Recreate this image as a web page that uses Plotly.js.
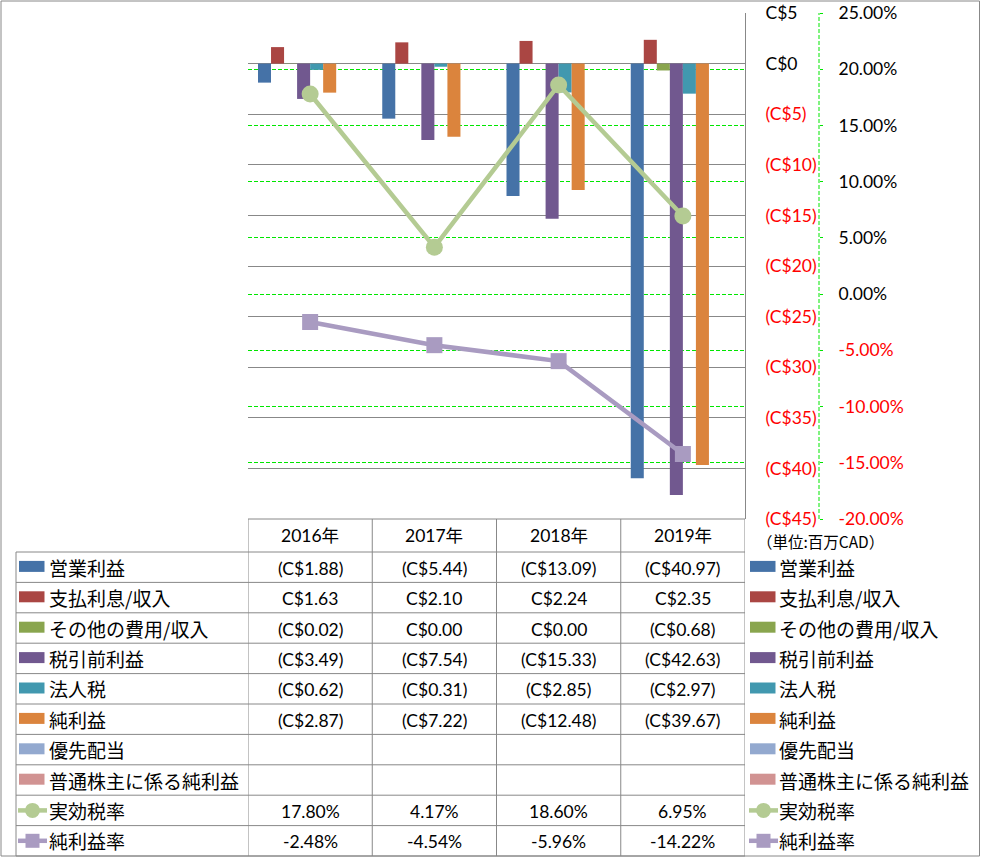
<!DOCTYPE html>
<html><head><meta charset="utf-8">
<script src="https://cdn.plot.ly/plotly-3.0.1.min.js"></script>
<style>html,body{margin:0;padding:0;background:#fff}</style>
</head><body><div id="chart" style="width:981px;height:858px"></div>
<script>
// ---------- DATA ----------
const years = ["2016年", "2017年", "2018年", "2019年"];
const barNames = ["営業利益", "支払利息/収入", "その他の費用/収入", "税引前利益", "法人税", "純利益", "優先配当", "普通株主に係る純利益"];
const operatingIncome = [-1.88, -5.44, -13.09, -40.97];
const interestIncome = [1.63, 2.10, 2.24, 2.35];
const otherExpense = [-0.02, 0.00, 0.00, -0.68];
const pretaxIncome = [-3.49, -7.54, -15.33, -42.63];
const incomeTax = [-0.62, -0.31, -2.85, -2.97];
const netIncome = [-2.87, -7.22, -12.48, -39.67];
const preferredDividend = [null, null, null, null];
const netToCommon = [null, null, null, null];
const lineNames = ["実効税率", "純利益率"];
const effectiveTaxRate = [17.80, 4.17, 18.60, 6.95];
const netMargin = [-2.48, -4.54, -5.96, -14.22];
const moneyTicks = [5, 0, -5, -10, -15, -20, -25, -30, -35, -40, -45];
const pctTicks = [25, 20, 15, 10, 5, 0, -5, -10, -15, -20];
const unitLabel = "（単位:百万CAD）";

// ---------- STYLE ----------
const barColors = ["#4572A7", "#AA4643", "#89A54E", "#71588F", "#4198AF", "#DB843D", "#93A9CF", "#D19392"];
const lineColors = ["#B4CB93", "#A99BC1"];
const barSeries = [operatingIncome, interestIncome, otherExpense, pretaxIncome, incomeTax, netIncome, preferredDividend, netToCommon];
const lineSeries = [effectiveTaxRate, netMargin];
const RED = "#FF0000", GRID = "#888888", GREEN = "#00E600";
const NUMFONT = "Lato, 'Noto Sans CJK JP', sans-serif";
const JPFONT = "'Noto Sans CJK JP', sans-serif";

// pixel geometry helpers (layout only)
const plotL = 248, plotR = 745, plotT = 13, plotB = 519, paperR = 900;
const PW = paperR - plotL, PH = plotB - plotT;
const X = px => (px - plotL) / PW;
const Y = py => (plotB - py) / PH;
const rowTop = 552, rowH = 30.4;
const rowC = r => rowTop + rowH * (r + 0.5);

function fmtMoney(v) {
  if (v === null || v === undefined) return "";
  return v < 0 ? "(C$" + Math.abs(v).toFixed(2) + ")" : "C$" + v.toFixed(2);
}
function fmtPct(v) { return (v === null || v === undefined) ? "" : v.toFixed(2) + "%"; }
function moneyTick(v) {
  return v < 0 ? '<span style="color:' + RED + '">(C$' + (-v) + ')</span>' : "C$" + v;
}
function pctTick(v) {
  const t = v.toFixed(2) + "%";
  return v < 0 ? '<span style="color:' + RED + '">' + t + '</span>' : t;
}

// ---------- TRACES ----------
const traces = [];
barNames.forEach((n, i) => {
  traces.push({
    type: "bar", name: n, x: years, y: barSeries[i], yaxis: "y", xaxis: "x",
    marker: { color: barColors[i], line: { width: 0 } }, hoverinfo: "skip"
  });
});
const symbols = ["circle", "square"];
const msizes = [17, 16];
lineNames.forEach((n, i) => {
  traces.push({
    type: "scatter", mode: "lines+markers", name: n, x: years, y: lineSeries[i],
    xaxis: "x", yaxis: "y2",
    line: { color: lineColors[i], width: 4.5 },
    marker: { symbol: symbols[i], size: msizes[i], color: lineColors[i] },
    cliponaxis: false, hoverinfo: "skip"
  });
});

// ---------- SHAPES ----------
const shapes = [];
const hline = (x0, x1, py, col, w) => shapes.push({ type: "line", xref: "paper", yref: "paper", x0: X(x0), x1: X(x1), y0: Y(py), y1: Y(py), line: { color: col || GRID, width: w || 1 } });
// outer border
shapes.push({ type: "rect", xref: "paper", yref: "paper", x0: X(1), x1: X(979.5), y0: Y(856), y1: Y(1), line: { color: GRID, width: 1 } });
// header top
hline(plotL, plotR, plotB);
// body horizontal lines
for (let i = 0; i <= 10; i++) hline(16, plotR, rowTop + rowH * i);
// column boundaries (category edges through the x scale)
for (let c = 0; c <= years.length; c++) {
  shapes.push({ type: "line", xref: "x", yref: "paper", x0: c - 0.5, x1: c - 0.5, y0: Y(856), y1: Y(plotB), line: { color: GRID, width: 1 } });
}
// first column left edge
shapes.push({ type: "line", xref: "paper", yref: "paper", x0: X(16), x1: X(16), y0: Y(856), y1: Y(rowTop), line: { color: GRID, width: 1 } });
// secondary axis dashed line
shapes.push({ type: "line", xref: "paper", yref: "paper", x0: X(819), x1: X(819), y0: Y(plotB), y1: Y(plotT), line: { color: GREEN, width: 1, dash: "4px,2px" } });

// legend swatches (left column + right legend)
function barSwatch(x0, r, color) {
  const c = rowC(r) - 0.8;
  shapes.push({ type: "rect", xref: "paper", yref: "paper", x0: X(x0), x1: X(x0 + 25.5), y0: Y(c + 5.5), y1: Y(c - 5.5), fillcolor: color, line: { width: 0 } });
}
function lineSwatch(x0, r, color, sym) {
  const c = rowC(r);
  shapes.push({ type: "line", xref: "paper", yref: "paper", x0: X(x0), x1: X(x0 + 29), y0: Y(c), y1: Y(c), line: { color: color, width: 4.5 } });
  const cx = x0 + 14.5, rr = sym === "circle" ? 7.5 : 7;
  shapes.push({ type: sym === "circle" ? "circle" : "rect", xref: "paper", yref: "paper", x0: X(cx - rr), x1: X(cx + rr), y0: Y(c + rr), y1: Y(c - rr), fillcolor: color, line: { width: 0 } });
}
[19, 750].forEach(x0 => {
  barNames.forEach((n, i) => barSwatch(x0, i, barColors[i]));
  lineNames.forEach((n, i) => lineSwatch(x0 - 1, barNames.length + i, lineColors[i], symbols[i]));
});

// ---------- ANNOTATIONS ----------
const ann = [];
years.forEach(yr => ann.push({ xref: "x", yref: "paper", x: yr, y: Y(535.5), text: yr, showarrow: false, xanchor: "center", yanchor: "middle", font: { family: NUMFONT, size: 17.5, color: "#000" } }));
const allNames = barNames.concat(lineNames);
allNames.forEach((n, r) => {
  [47, 777].forEach(x0 => ann.push({ xref: "paper", yref: "paper", x: X(x0), y: Y(rowC(r)), text: n, showarrow: false, xanchor: "left", yanchor: "middle", font: { family: JPFONT, size: 19, color: "#000" } }));
});
barSeries.forEach((arr, r) => arr.forEach((v, c) => {
  const t = fmtMoney(v);
  if (t) ann.push({ xref: "x", yref: "paper", x: years[c], y: Y(rowC(r) + 1), text: t, showarrow: false, xanchor: "center", yanchor: "middle", font: { family: NUMFONT, size: 17.5, color: "#000" } });
}));
lineSeries.forEach((arr, k) => arr.forEach((v, c) => {
  ann.push({ xref: "x", yref: "paper", x: years[c], y: Y(rowC(barNames.length + k) + 1), text: fmtPct(v), showarrow: false, xanchor: "center", yanchor: "middle", font: { family: NUMFONT, size: 17.5, color: "#000" } });
}));
ann.push({ xref: "paper", yref: "paper", x: X(755), y: Y(541), text: unitLabel, showarrow: false, xanchor: "left", yanchor: "middle", font: { family: JPFONT, size: 15.5, color: "#000" } });

// ---------- LAYOUT ----------
const layout = {
  width: 981, height: 858,
  margin: { l: plotL, r: 981 - paperR, t: plotT, b: 858 - plotB, pad: 0 },
  paper_bgcolor: "#fff", plot_bgcolor: "rgba(0,0,0,0)",
  showlegend: false, barmode: "group", bargap: 0.161, bargroupgap: 0,
  xaxis: { domain: [0, X(plotR)], type: "category", range: [-0.5, years.length - 0.5], showticklabels: false, showgrid: false, zeroline: false, showline: false, ticks: "", fixedrange: true },
  yaxis: {
    range: [-45, 5], side: "right", tickmode: "array", tickvals: moneyTicks, ticktext: moneyTicks.map(moneyTick),
    showgrid: true, gridcolor: GRID, gridwidth: 1, zeroline: false, showline: true, linecolor: GRID, linewidth: 1,
    ticks: "", ticklabelstandoff: 16, tickfont: { family: NUMFONT, size: 17.5, color: "#000" }, fixedrange: true
  },
  yaxis2: {
    overlaying: "y", anchor: "free", position: X(819), side: "right", range: [-20, 25],
    tickmode: "array", tickvals: pctTicks, ticktext: pctTicks.map(pctTick),
    showgrid: true, gridcolor: GREEN, gridwidth: 1, griddash: "4px,2px", zeroline: false, showline: false,
    ticks: "outside", ticklen: 3, tickcolor: GREEN, tickwidth: 1, ticklabelstandoff: 12,
    tickfont: { family: NUMFONT, size: 17.5, color: "#000" }, fixedrange: true
  },
  shapes: shapes, annotations: ann
};
Plotly.newPlot("chart", traces, layout, { staticPlot: true, displayModeBar: false });
</script></body></html>
